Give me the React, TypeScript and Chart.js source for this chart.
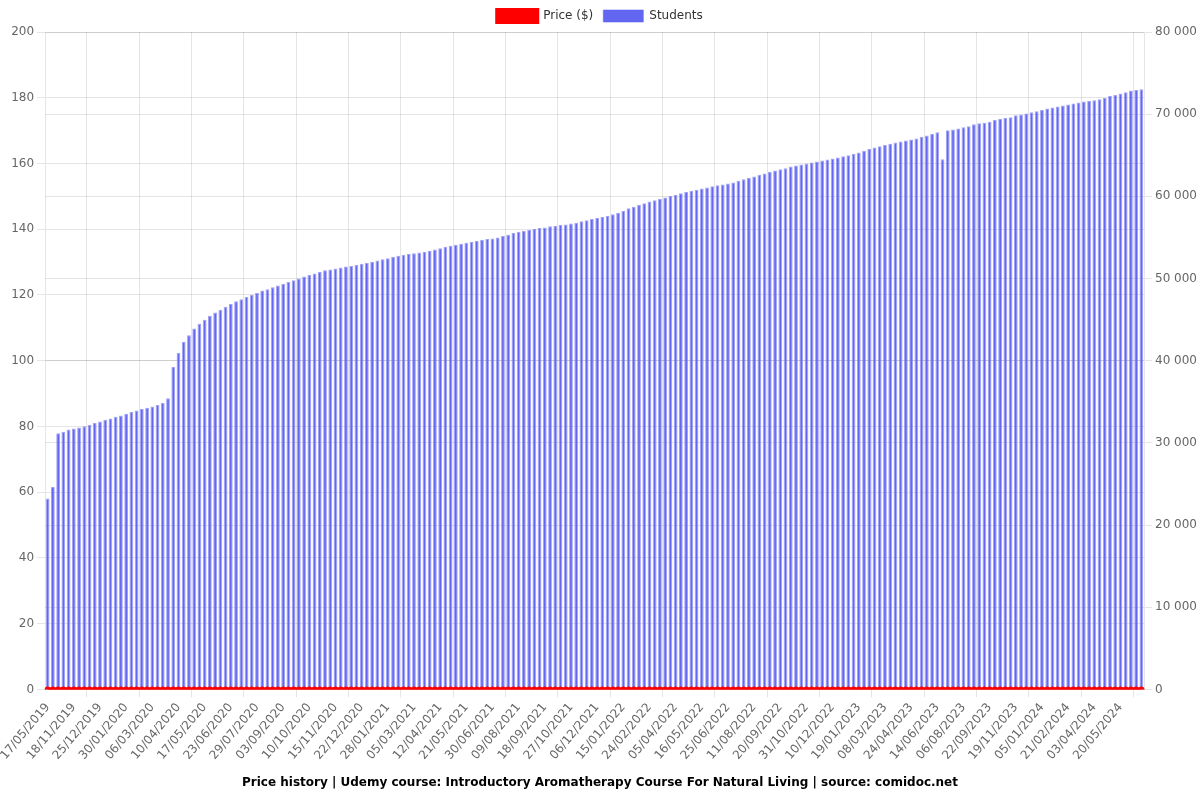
import React, { useEffect, useRef } from "react";
import { Chart, registerables } from "chart.js";

Chart.register(...registerables);

const tickLabels: string[] = [
  "17/05/2019", "18/11/2019", "25/12/2019", "30/01/2020", "06/03/2020", "10/04/2020",
  "17/05/2020", "23/06/2020", "29/07/2020", "03/09/2020", "10/10/2020", "15/11/2020",
  "22/12/2020", "28/01/2021", "05/03/2021", "12/04/2021", "21/05/2021", "30/06/2021",
  "09/08/2021", "18/09/2021", "27/10/2021", "06/12/2021", "15/01/2022", "24/02/2022",
  "05/04/2022", "16/05/2022", "25/06/2022", "11/08/2022", "20/09/2022", "31/10/2022",
  "10/12/2022", "19/01/2023", "08/03/2023", "24/04/2023", "14/06/2023", "06/08/2023",
  "22/09/2023", "19/11/2023", "05/01/2024", "21/02/2024", "03/04/2024", "20/05/2024",
];

const students: number[] = [
  23240, 24630, 31180, 31350, 31630, 31760, 31880, 32040, 32200, 32410,
  32610, 32810, 32980, 33180, 33340, 33550, 33750, 33950, 34120, 34280,
  34440, 34600, 34850, 35420, 39250, 40960, 42300, 43110, 43930, 44500,
  44990, 45480, 45880, 46210, 46550, 46900, 47230, 47470, 47760, 48040,
  48240, 48530, 48690, 48940, 49140, 49380, 49590, 49790, 50000, 50240,
  50440, 50600, 50810, 51010, 51090, 51210, 51340, 51460, 51540, 51660,
  51790, 51910, 52030, 52190, 52360, 52480, 52640, 52760, 52890, 53000,
  53090, 53170, 53250, 53370, 53540, 53700, 53860, 53980, 54110, 54230,
  54350, 54470, 54600, 54720, 54800, 54880, 55000, 55170, 55330, 55530,
  55700, 55820, 55940, 56020, 56150, 56220, 56350, 56430, 56510, 56590,
  56710, 56790, 56960, 57080, 57240, 57370, 57490, 57610, 57810, 58020,
  58220, 58540, 58750, 58990, 59150, 59360, 59520, 59690, 59850, 60050,
  60180, 60370, 60540, 60670, 60790, 60950, 61070, 61230, 61360, 61440,
  61560, 61680, 61890, 62080, 62250, 62410, 62620, 62780, 62980, 63150,
  63290, 63430, 63630, 63760, 63880, 64000, 64120, 64240, 64370, 64490,
  64610, 64730, 64890, 65010, 65140, 65340, 65550, 65750, 65950, 66110,
  66240, 66400, 66560, 66690, 66810, 66930, 67050, 67260, 67420, 67620,
  67790, 64530, 68030, 68150, 68270, 68420, 68540, 68760, 68890, 68970,
  69090, 69290, 69410, 69530, 69620, 69860, 69950, 70070, 70230, 70350,
  70510, 70680, 70800, 70930, 71050, 71170, 71290, 71410, 71540, 71610,
  71690, 71820, 71980, 72220, 72340, 72510, 72670, 72880, 72950, 73040,
];

const prices: number[] = [
  0, 0, 0, 0, 0, 0, 0, 0, 0, 0, 0, 0, 0, 0, 0, 0, 0, 0, 0, 0,
  0, 0, 0, 0, 0, 0, 0, 0, 0, 0, 0, 0, 0, 0, 0, 0, 0, 0, 0, 0,
  0, 0, 0, 0, 0, 0, 0, 0, 0, 0, 0, 0, 0, 0, 0, 0, 0, 0, 0, 0,
  0, 0, 0, 0, 0, 0, 0, 0, 0, 0, 0, 0, 0, 0, 0, 0, 0, 0, 0, 0,
  0, 0, 0, 0, 0, 0, 0, 0, 0, 0, 0, 0, 0, 0, 0, 0, 0, 0, 0, 0,
  0, 0, 0, 0, 0, 0, 0, 0, 0, 0, 0, 0, 0, 0, 0, 0, 0, 0, 0, 0,
  0, 0, 0, 0, 0, 0, 0, 0, 0, 0, 0, 0, 0, 0, 0, 0, 0, 0, 0, 0,
  0, 0, 0, 0, 0, 0, 0, 0, 0, 0, 0, 0, 0, 0, 0, 0, 0, 0, 0, 0,
  0, 0, 0, 0, 0, 0, 0, 0, 0, 0, 0, 0, 0, 0, 0, 0, 0, 0, 0, 0,
  0, 0, 0, 0, 0, 0, 0, 0, 0, 0, 0, 0, 0, 0, 0, 0, 0, 0, 0, 0,
  0, 0, 0, 0, 0, 0, 0, 0, 0, 0,
];

const TICK_EVERY = 5;
const TITLE =
  "Price history | Udemy course: Introductory Aromatherapy Course For Natural Living | source: comidoc.net";

function fmtThousands(v: number): string {
  return String(Math.round(v)).replace(/\B(?=(\d{3})+(?!\d))/g, " ");
}

export default function App() {
  const ref = useRef<HTMLCanvasElement | null>(null);
  useEffect(() => {
    if (!ref.current) return;
    Chart.defaults.font.family = "'DejaVu Sans', sans-serif";
    const labels = students.map((_, i) =>
      i % TICK_EVERY === 0 ? tickLabels[i / TICK_EVERY] ?? "" : ""
    );
    const chart = new Chart(ref.current, {
      type: "bar",
      data: {
        labels,
        datasets: [
          {
            type: "line",
            label: "Price ($)",
            data: prices,
            borderColor: "rgb(255,0,0)",
            backgroundColor: "rgb(255,0,0)",
            borderWidth: 4,
            pointRadius: 1,
            yAxisID: "y",
          } as any,
          {
            type: "bar",
            label: "Students",
            data: students,
            backgroundColor: "rgb(99,102,241)",
            borderColor: "rgba(99,102,241,0.6)",
            borderWidth: 1,
            yAxisID: "y1",
          },
        ],
      },
      options: {
        responsive: true,
        maintainAspectRatio: false,
        animation: false,
        plugins: {
          legend: {
            position: "top",
            labels: { color: "#333", font: { size: 12 } },
          },
          title: {
            display: true,
            position: "bottom",
            text: TITLE,
            color: "#000",
            font: { size: 12, weight: "bold" },
          },
          tooltip: { enabled: false },
        },
        scales: {
          x: {
            ticks: {
              autoSkip: true,
              maxTicksLimit: 42,
              font: { size: 12 },
            },
          },
          y: {
            position: "left",
            min: 0,
            max: 200,
            ticks: { stepSize: 20, font: { size: 12 } },
          },
          y1: {
            position: "right",
            min: 0,
            max: 80000,
            ticks: {
              stepSize: 10000,
              font: { size: 12 },
              callback: (v: any) => fmtThousands(Number(v)),
            },
          },
        },
      },
    });
    return () => chart.destroy();
  }, []);
  return (
    <div style={{ position: "fixed", left: 0, top: 0, width: 1200, height: 800 }}>
      <canvas ref={ref} />
    </div>
  );
}
